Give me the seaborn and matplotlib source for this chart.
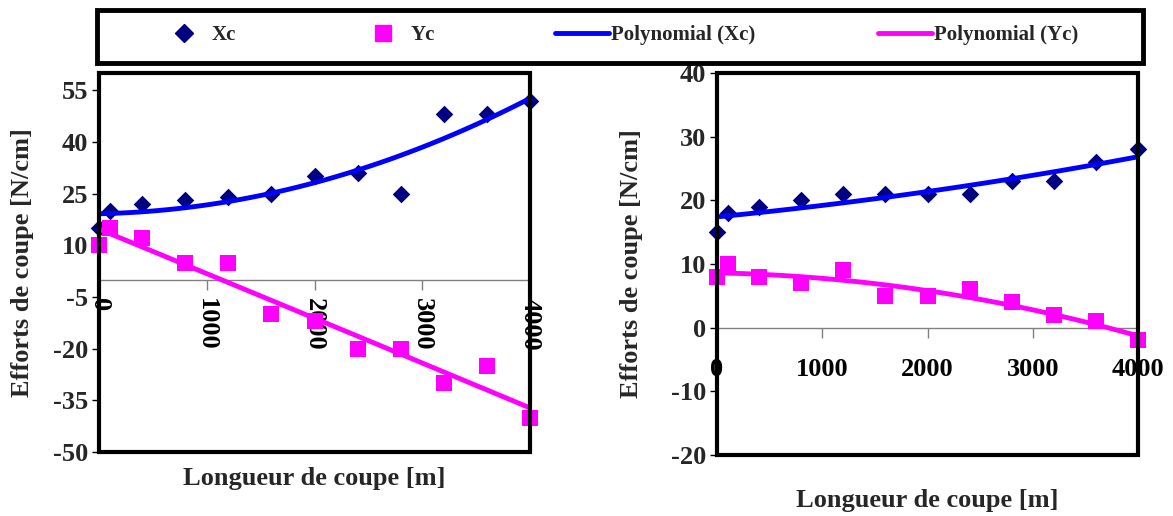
import numpy as np
import pandas as pd
import matplotlib
matplotlib.use("Agg")
import matplotlib.pyplot as plt
from matplotlib.patches import Rectangle
from matplotlib.lines import Line2D
import seaborn as sns

# ---- data ----
length_m = [0, 100, 400, 800, 1200, 1600, 2000, 2400, 2800, 3200, 3600, 4000]
left_xc = [15, 20, 22, 23, 24, 25, 30, 31, 25, 48, 48, 52]
left_yc = [10, 15, 12, 5, 5, -10, -12, -20, -20, -30, -25, -40]
right_xc = [15, 18, 19, 20, 21, 21, 21, 21, 23, 23, 26, 28]
right_yc = [8, 10, 8, 7, 9, 5, 5, 6, 4, 2, 1, -2]
left_yticks = [-50, -35, -20, -5, 10, 25, 40, 55]
right_yticks = [-20, -10, 0, 10, 20, 30, 40]
x_ticks = [0, 1000, 2000, 3000, 4000]
legend_labels = ["Xc", "Yc", "Polynomial (Xc)", "Polynomial (Yc)"]

C_XC = "#000080"
C_YC = "#FF00FF"
C_PX = "#0000FF"
C_PY = "#FF00FF"

sns.set_style("white")
plt.rcParams["font.family"] = ["Liberation Serif", "DejaVu Serif"]
plt.rcParams["font.weight"] = "bold"
plt.rcParams["axes.labelweight"] = "bold"
plt.rcParams["axes.unicode_minus"] = False

FS = 19

W, H = 1173, 516
fig = plt.figure(figsize=(W / 100, H / 100), dpi=100)


def fx(px):
    return px / W


def fy(py):
    return 1 - py / H


ax1 = fig.add_axes([fx(99), fy(452), fx(530) - fx(99), fy(73) - fy(452)])
ax2 = fig.add_axes([fx(717), fy(455), fx(1138) - fx(717), fy(73) - fy(455)])


def draw(ax, xc, yc, ylim, yticks, rot):
    df = pd.DataFrame({"L": length_m, "Xc": xc, "Yc": yc})
    sns.scatterplot(data=df, x="L", y="Xc", ax=ax, marker="D", s=80,
                    color=C_XC, edgecolor=C_XC, linewidth=0, zorder=3, clip_on=False)
    sns.scatterplot(data=df, x="L", y="Yc", ax=ax, marker="s", s=120,
                    color=C_YC, edgecolor=C_YC, linewidth=0, zorder=3, clip_on=False)
    sns.regplot(data=df, x="L", y="Xc", ax=ax, order=2, scatter=False, ci=None,
                line_kws=dict(color=C_PX, lw=3.5, zorder=4))
    sns.regplot(data=df, x="L", y="Yc", ax=ax, order=2, scatter=False, ci=None,
                line_kws=dict(color=C_PY, lw=3.5, zorder=4))
    ax.set_xlim(0, 4000)
    ax.set_ylim(*ylim)
    ax.set_yticks(yticks)
    ax.set_xticks(x_ticks)
    ax.set_xticklabels([str(t) for t in x_ticks])
    for s in ["top", "left", "right"]:
        ax.spines[s].set_visible(False)
    ax.spines["bottom"].set_position(("data", 0))
    ax.spines["bottom"].set_color("#808080")
    ax.spines["bottom"].set_linewidth(1)
    ax.add_patch(Rectangle((0, 0), 1, 1, transform=ax.transAxes, fill=False,
                           lw=3, ec="black", zorder=5, clip_on=False))
    ax.tick_params(axis="y", left=True, direction="out", length=5, width=1,
                   color="black", labelsize=FS, pad=3)
    ax.tick_params(axis="x", bottom=True, direction="out", length=7, width=1,
                   color="#808080", labelcolor="black", labelsize=FS,
                   labelrotation=rot, pad=6 if rot else 15)
    for lab in ax.get_xticklabels() + ax.get_yticklabels():
        lab.set_fontweight("bold")
    ax.set_xlabel("Longueur de coupe [m]", fontsize=FS, fontweight="bold")
    ax.set_ylabel("Efforts de coupe [N/cm]", fontsize=FS, fontweight="bold")
    ax.grid(False)


draw(ax1, left_xc, left_yc, (-50, 60), left_yticks, -90)
draw(ax2, right_xc, right_yc, (-20, 40), right_yticks, 0)

ax1.xaxis.set_label_coords(0.5, -0.04)
ax2.xaxis.set_label_coords(0.5, -0.09)
ax1.yaxis.set_label_coords(-0.15, 0.5)
ax2.yaxis.set_label_coords(-0.175, 0.5)

# ---- legend ----
fig.add_artist(Rectangle((fx(97), fy(63)), fx(1143) - fx(97), fy(10) - fy(63),
                         transform=fig.transFigure, fill=False, lw=3.5,
                         ec="black", zorder=10))
handles = [
    Line2D([], [], ls="none", marker="D", ms=9, color=C_XC, mec=C_XC),
    Line2D([], [], ls="none", marker="s", ms=11, color=C_YC, mec=C_YC),
    Line2D([], [], color=C_PX, lw=3.5),
    Line2D([], [], color=C_PY, lw=3.5),
]
starts = [165, 364, 555, 878]
hl = [1.85, 1.85, 2.6, 2.6]
tp = [0.4, 0.4, 0.1, 0.1]
for h, lab, sx, l, p in zip(handles, legend_labels, starts, hl, tp):
    fig.legend([h], [lab], loc="center left", bbox_to_anchor=(fx(sx), fy(35)),
               frameon=False, borderpad=0, borderaxespad=0, handlelength=l,
               handletextpad=p, prop=dict(size=15, weight="bold"))

fig.savefig("out.png", dpi=100)
